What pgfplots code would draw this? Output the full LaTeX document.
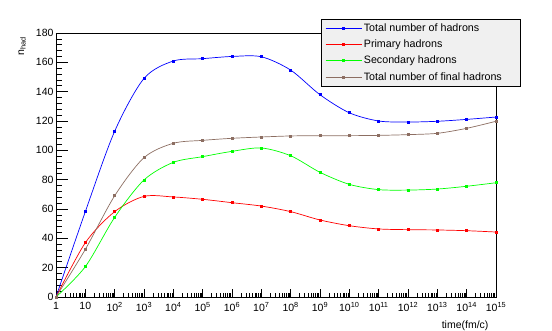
\documentclass[border=0pt]{standalone}
\usepackage{fontspec}
\setmainfont{Liberation Sans}
\usepackage{pgfplots}
\pgfplotsset{compat=1.18}

\definecolor{rootbrown}{RGB}{140,110,98}

\begin{document}
\begin{tikzpicture}
\path[use as bounding box] (-56pt,-34pt) rectangle (496pt,297pt);
\begin{axis}[
  at={(0,0)}, anchor=south west,
  scale only axis, width=440pt, height=264pt,
  xmode=log, xmin=1, xmax=1e15, ymin=0, ymax=180,
  xtick={1,10,100,1e3,1e4,1e5,1e6,1e7,1e8,1e9,1e10,1e11,1e12,1e13,1e14,1e15},
  xticklabels={1,10,10\textsuperscript{2},10\textsuperscript{3},10\textsuperscript{4},10\textsuperscript{5},10\textsuperscript{6},10\textsuperscript{7},10\textsuperscript{8},10\textsuperscript{9},10\textsuperscript{10},10\textsuperscript{11},10\textsuperscript{12},10\textsuperscript{13},10\textsuperscript{14},10\textsuperscript{15}},
  ytick={0,20,...,180}, minor y tick num=4,
  xtick pos=bottom, ytick pos=left, tick align=inside,
  major tick length=12pt, minor tick length=6pt,
  xtick style={/pgfplots/major tick length=8pt,/pgfplots/minor tick length=4pt},
  tick style={black, line width=0.6pt},
  axis line style={line width=0.7pt},
  /pgf/number format/assume math mode=true,
  ticklabel style={font=\fontsize{10.5}{12}\selectfont},
  yticklabel style={xshift=1pt},
  xticklabel style={yshift=-2pt},
  clip=false,
  legend style={at={(rel axis cs:0.602,1.053)}, anchor=north west,
    fill=black!6, draw=black, line width=0.6pt,
    font=\fontsize{10.7}{12}\selectfont,
    inner xsep=4pt, inner ysep=2pt, row sep=3.2pt,
    /tikz/every even column/.append style={column sep=8pt}},
  legend cell align=left,
  legend image code/.code={\draw[mark repeat=2,mark phase=2] plot coordinates {(0pt,0pt)(18pt,0pt)(36pt,0pt)};},
  every axis plot/.append style={line width=0.7pt, mark=square*, mark size=1pt, smooth},
]
\addplot[blue, mark options={fill=blue}] coordinates {
(1,0)(10,58.2)(100,113)(1e3,149)(1e4,160.9)(1e5,162.5)(1e6,164)(1e7,163.8)
(1e8,154.7)(1e9,137.9)(1e10,125.6)(1e11,120)(1e12,119.3)(1e13,119.8)(1e14,121.1)(1e15,122.7)};
\addplot[red, mark options={fill=red}] coordinates {
(1,0)(10,37)(100,58.2)(1e3,68.6)(1e4,68.2)(1e5,66.6)(1e6,64.3)(1e7,62)
(1e8,58.2)(1e9,52.5)(1e10,48.6)(1e11,46.4)(1e12,45.9)(1e13,45.7)(1e14,45.2)(1e15,44.3)};
\addplot[green, mark options={fill=green}] coordinates {
(1,0)(10,20.7)(100,54.3)(1e3,79.8)(1e4,91.8)(1e5,95.7)(1e6,99.3)(1e7,101.6)
(1e8,96.3)(1e9,85)(1e10,76.8)(1e11,73.2)(1e12,72.9)(1e13,73.6)(1e14,75.5)(1e15,77.9)};
\addplot[rootbrown, mark options={fill=rootbrown}] coordinates {
(1,0)(10,32.5)(100,69)(1e3,95)(1e4,104.8)(1e5,106.8)(1e6,108.2)(1e7,109.1)
(1e8,109.8)(1e9,110)(1e10,110)(1e11,110.2)(1e12,110.7)(1e13,111.6)(1e14,115)(1e15,119.8)};
\legend{Total number of hadrons, Primary hadrons, Secondary hadrons, Total number of final hadrons\kern12pt\null}
\node[rotate=90, anchor=east, font=\fontsize{10.5}{12}\selectfont] at (rel axis cs:-0.077,1) {n\textsubscript{had}};
\node[anchor=north east, font=\fontsize{10.5}{12}\selectfont] at ([yshift=-20pt,xshift=-4pt]rel axis cs:1,0) {time(fm/c)};
\end{axis}
\end{tikzpicture}
\end{document}
